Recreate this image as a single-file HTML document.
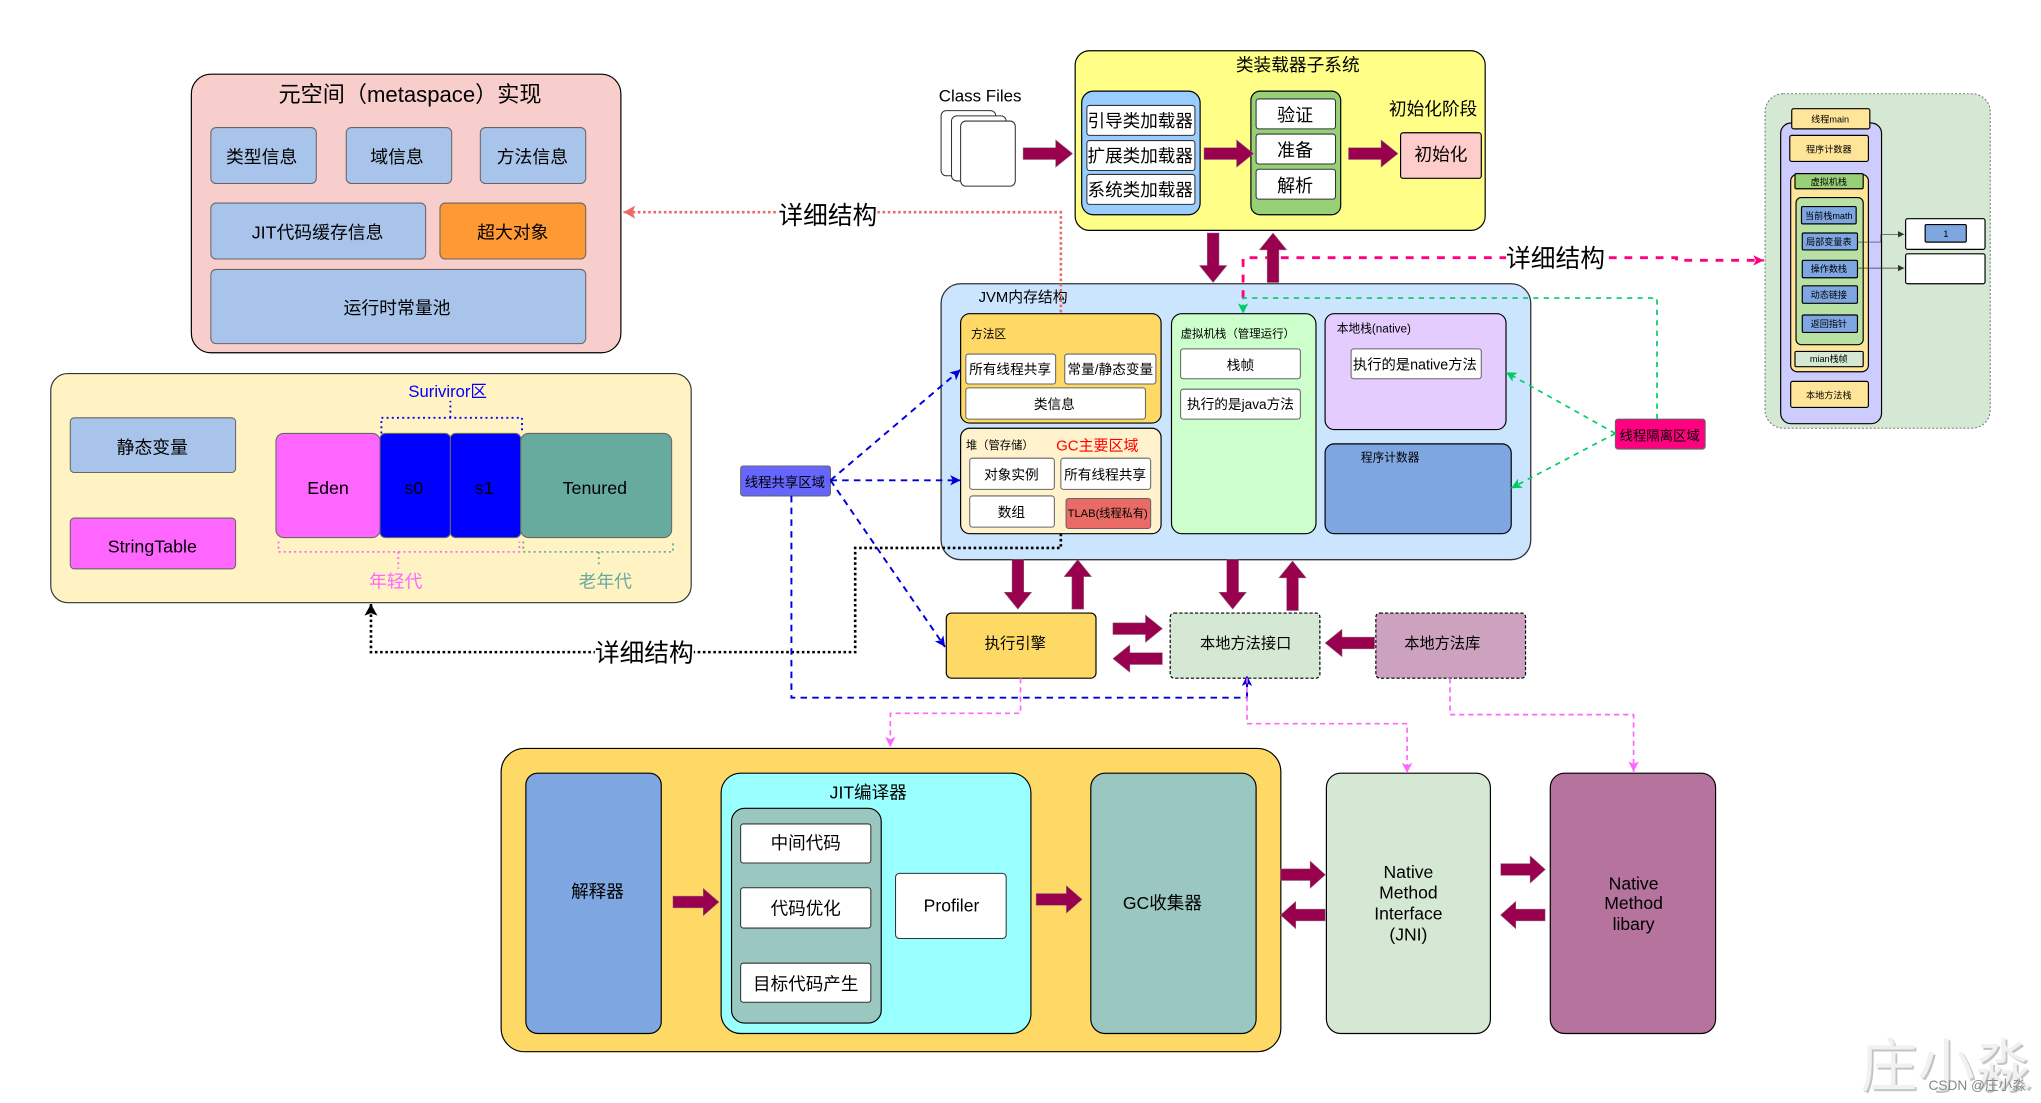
<!DOCTYPE html>
<html><head><meta charset="utf-8">
<style>
html,body{margin:0;padding:0;background:#fff;width:2041px;height:1103px;overflow:hidden}
svg{display:block}
text{font-family:"Liberation Sans","Noto Sans CJK SC",sans-serif;fill:#000;text-anchor:middle;dominant-baseline:central;transform:translateY(.8px)}
.l{text-anchor:start}
.b{stroke:#666;stroke-width:.8}
.k{stroke:#000;stroke-width:.9}
.w{fill:#fff;stroke:#666;stroke-width:.8}
path{fill:none}
</style></head><body>
<svg width="2041" height="1103" viewBox="0 0 1568 847.4" preserveAspectRatio="none" xmlns="http://www.w3.org/2000/svg">
<defs>
<polygon id="ar" points="0,-4.5 25,-4.5 25,-10.5 38,0 25,10.5 25,4.5 0,4.5" fill="#99004d" stroke="#8a6a7a" stroke-width=".4"/>
<marker id="mr" markerUnits="userSpaceOnUse" markerWidth="12" markerHeight="12" refX="9" refY="5" orient="auto"><path d="M0,0L9,5L0,10L2,5Z" style="fill:#ea6b66"/></marker>
<marker id="mk" markerUnits="userSpaceOnUse" markerWidth="12" markerHeight="12" refX="9" refY="5" orient="auto"><path d="M0,0L9,5L0,10L2,5Z" style="fill:#000"/></marker>
<marker id="mb" markerUnits="userSpaceOnUse" markerWidth="10" markerHeight="10" refX="8" refY="4" orient="auto"><path d="M0,0L8,4L0,8L2,4Z" style="fill:#0000dd"/></marker>
<marker id="mg" markerUnits="userSpaceOnUse" markerWidth="10" markerHeight="10" refX="8" refY="4" orient="auto"><path d="M0,0L8,4L0,8L2,4Z" style="fill:#00cc66"/></marker>
<marker id="mp" markerUnits="userSpaceOnUse" markerWidth="10" markerHeight="10" refX="8" refY="4" orient="auto"><path d="M0,0L8,4L0,8L2,4Z" style="fill:#ff0080"/></marker>
<marker id="mm" markerUnits="userSpaceOnUse" markerWidth="10" markerHeight="10" refX="8" refY="4" orient="auto"><path d="M0,0L8,4L0,8L2,4Z" style="fill:#ff66ff"/></marker>
<marker id="md" markerUnits="userSpaceOnUse" markerWidth="6" markerHeight="6" refX="5" refY="2.5" orient="auto"><path d="M0,0L5,2.5L0,5Z" style="fill:#333"/></marker>
</defs>

<!-- metaspace -->
<rect x="147" y="57" width="330" height="214" rx="15" fill="#f8cecc" class="k"/>
<text x="315" y="72" font-size="17">元空间（metaspace）实现</text>
<g font-size="13.7">
<rect x="162" y="98" width="81" height="43" rx="4" fill="#a9c4eb" class="b"/><text x="201" y="120">类型信息</text>
<rect x="266" y="98" width="81" height="43" rx="4" fill="#a9c4eb" class="b"/><text x="305" y="120">域信息</text>
<rect x="369" y="98" width="81" height="43" rx="4" fill="#a9c4eb" class="b"/><text x="409" y="120">方法信息</text>
<rect x="162" y="156" width="165" height="43" rx="4" fill="#a9c4eb" class="b"/><text x="244" y="178">JIT代码缓存信息</text>
<rect x="338" y="156" width="112" height="43" rx="4" fill="#ff9933" class="b"/><text x="394" y="178">超大对象</text>
<rect x="162" y="207" width="288" height="57" rx="4" fill="#a9c4eb" class="b"/><text x="305" y="236">运行时常量池</text>
</g>

<!-- heap detail -->
<rect x="39" y="287" width="492" height="176" rx="13" fill="#fff2c3" stroke="#333" stroke-width=".9"/>
<g font-size="13.7">
<rect x="54" y="321" width="127" height="42" rx="3" fill="#a9c4eb" class="b"/><text x="117" y="343">静态变量</text>
<rect x="54" y="398" width="127" height="39" rx="3" fill="#ff66ff" class="b"/><text x="117" y="419">StringTable</text>
<rect x="212" y="333" width="80" height="80" rx="6" fill="#ff66ff" class="b"/><text x="252" y="374">Eden</text>
<rect x="292" y="333" width="54" height="80" rx="4" fill="#0000ff" class="b"/><text x="318" y="374">s0</text>
<rect x="346" y="333" width="54" height="80" rx="4" fill="#0000ff" class="b"/><text x="372" y="374">s1</text>
<rect x="400" y="333" width="116" height="80" rx="6" fill="#67ab9f" class="b"/><text x="457" y="374">Tenured</text>
<text x="344" y="300" font-size="12.8" style="fill:#0000ff">Suriviror区</text>
<text x="304" y="446" style="fill:#ff66ff">年轻代</text>
<text x="465" y="446" style="fill:#67ab9f">老年代</text>
</g>
<path d="M293,333V321H401V333M346,321V308" stroke="#0000ff" stroke-width="1.4" stroke-dasharray="1.5 2.5"/>
<path d="M214,416V424H399V416M306,424V437" stroke="#ff66ff" stroke-width="1.4" stroke-dasharray="1.5 2.5"/>
<path d="M402,416V424H517V416M460,424V434" stroke="#67ab9f" stroke-width="1.4" stroke-dasharray="1.5 2.5"/>

<!-- class files -->
<text x="753" y="73" font-size="13">Class Files</text>
<rect x="723" y="85" width="42" height="50" rx="4" class="w" style="stroke:#333"/>
<rect x="731" y="89" width="42" height="50" rx="4" class="w" style="stroke:#333"/>
<rect x="738" y="93" width="42" height="50" rx="4" class="w" style="stroke:#333"/>

<!-- class loader -->
<rect x="826" y="39" width="315" height="138" rx="11" fill="#ffff88" class="k"/>
<text x="997" y="49" font-size="13.6">类装载器子系统</text>
<rect x="831" y="70" width="91" height="95" rx="9" fill="#99ccff" class="k"/>
<g font-size="13.5">
<rect x="835" y="81" width="83" height="23" rx="2" class="w" style="stroke:#333"/><text x="876" y="92">引导类加载器</text>
<rect x="835" y="108" width="83" height="23" rx="2" class="w" style="stroke:#333"/><text x="876" y="119">扩展类加载器</text>
<rect x="835" y="134" width="83" height="23" rx="2" class="w" style="stroke:#333"/><text x="876" y="145">系统类加载器</text>
</g>
<rect x="961" y="70" width="69" height="95" rx="7" fill="#97d077" class="k"/>
<g font-size="13.8">
<rect x="965" y="76" width="61" height="23" rx="2" class="w" style="stroke:#333"/><text x="995" y="88">验证</text>
<rect x="965" y="103" width="61" height="23" rx="2" class="w" style="stroke:#333"/><text x="995" y="115">准备</text>
<rect x="965" y="130" width="61" height="23" rx="2" class="w" style="stroke:#333"/><text x="995" y="142">解析</text>
<text x="1101" y="83" font-size="13.6">初始化阶段</text>
</g>
<rect x="1076" y="102" width="62" height="35" rx="2" fill="#ffcccc" class="k"/>
<text x="1107" y="118" font-size="13.6">初始化</text>

<!-- JVM -->
<rect x="723" y="218" width="453" height="212" rx="15" fill="#cce5ff" stroke="#333" stroke-width="1"/>
<text x="786" y="228" font-size="11.4">JVM内存结构</text>
<rect x="738" y="241" width="154" height="84" rx="7" fill="#ffd966" class="k"/>
<text x="746" y="256" font-size="9" class="l">方法区</text>
<g font-size="10.5">
<rect x="742" y="272" width="69" height="23" rx="2" class="w"/><text x="776" y="283">所有线程共享</text>
<rect x="818" y="272" width="70" height="23" rx="2" class="w"/><text x="853" y="283">常量/静态变量</text>
<rect x="742" y="298" width="138" height="24" rx="2" class="w"/><text x="810" y="310">类信息</text>
</g>
<rect x="738" y="329" width="154" height="81" rx="7" fill="#fff2cc" class="k"/>
<text x="742" y="342" font-size="8.7" class="l">堆（管存储）</text>
<text x="843" y="342" font-size="11.5" style="fill:#ff0000">GC主要区域</text>
<g font-size="10.5">
<rect x="745" y="352" width="65" height="24" rx="2" class="w"/><text x="777" y="364">对象实例</text>
<rect x="815" y="352" width="69" height="24" rx="2" class="w"/><text x="849" y="364">所有线程共享</text>
<rect x="745" y="381" width="65" height="24" rx="2" class="w"/><text x="777" y="393">数组</text>
<rect x="819" y="383" width="65" height="23" rx="2" fill="#ea6b66" class="b"/><text x="851" y="394" font-size="8.6">TLAB(线程私有)</text>
</g>
<rect x="900" y="241" width="111" height="169" rx="8" fill="#ccffcc" class="k"/>
<text x="907" y="256" font-size="8.8" class="l">虚拟机栈（管理运行）</text>
<g font-size="10.5">
<rect x="907" y="268" width="92" height="23" rx="2" class="w"/><text x="953" y="280">栈帧</text>
<rect x="907" y="299" width="92" height="23" rx="2" class="w"/><text x="953" y="310">执行的是java方法</text>
</g>
<rect x="1018" y="241" width="139" height="89" rx="7" fill="#e5ccff" class="k"/>
<text x="1027" y="252" font-size="9" class="l">本地栈(native)</text>
<rect x="1038" y="268" width="100" height="23" rx="2" class="w"/><text x="1087" y="280" font-size="11">执行的是native方法</text>
<rect x="1018" y="341" width="143" height="69" rx="7" fill="#7ea6e0" class="k"/>
<text x="1068" y="351" font-size="9">程序计数器</text>

<rect x="569" y="358" width="69" height="23" rx="2" fill="#6666ff" class="b"/><text x="603" y="370" font-size="10.3">线程共享区域</text>
<rect x="1241" y="322" width="69" height="23" rx="2" fill="#ff0080" class="b"/><text x="1275" y="334" font-size="10.3">线程隔离区域</text>

<!-- execution row -->
<rect x="727" y="471" width="115" height="50" rx="4" fill="#ffd966" class="k"/><text x="780" y="494" font-size="11.8">执行引擎</text>
<rect x="899" y="471" width="115" height="50" rx="3" fill="#d5e8d4" stroke="#000" stroke-width=".9" stroke-dasharray="2.5 1.5"/><text x="957" y="494" font-size="11.7">本地方法接口</text>
<rect x="1057" y="471" width="115" height="50" rx="3" fill="#cda2be" stroke="#000" stroke-width=".9" stroke-dasharray="2.5 1.5"/><text x="1108" y="494" font-size="11.7">本地方法库</text>

<!-- bottom -->
<rect x="385" y="575" width="599" height="233" rx="18" fill="#ffd966" class="k"/>
<g font-size="13.5">
<rect x="404" y="594" width="104" height="200" rx="9" fill="#7ea6e0" class="k"/><text x="459" y="684">解释器</text>
<rect x="554" y="594" width="238" height="200" rx="15" fill="#99ffff" class="k"/><text x="667" y="608">JIT编译器</text>
<rect x="562" y="621" width="115" height="165" rx="10" fill="#9ac7bf" class="k"/>
<g font-size="13.5">
<rect x="569" y="633" width="100" height="30" rx="2" class="w" style="stroke:#333"/><text x="619" y="647">中间代码</text>
<rect x="569" y="682" width="100" height="31" rx="2" class="w" style="stroke:#333"/><text x="619" y="697">代码优化</text>
<rect x="569" y="740" width="100" height="30" rx="2" class="w" style="stroke:#333"/><text x="619" y="755">目标代码产生</text>
</g>
<rect x="688" y="671" width="85" height="50" rx="3" class="w" style="stroke:#333"/><text x="731" y="695">Profiler</text>
<rect x="838" y="594" width="127" height="200" rx="11" fill="#9ac7bf" class="k"/><text x="893" y="693">GC收集器</text>
<rect x="1019" y="594" width="126" height="200" rx="11" fill="#d5e8d4" class="k"/>
<text x="1082" y="669">Native</text><text x="1082" y="685">Method</text><text x="1082" y="701">Interface</text><text x="1082" y="717">(JNI)</text>
<rect x="1191" y="594" width="127" height="200" rx="11" fill="#b5739d" class="k"/>
<text x="1255" y="678">Native</text><text x="1255" y="693">Method</text><text x="1255" y="709">libary</text>
</g>

<!-- connectors -->
<path d="M815,240V163H479" stroke="#ea6b66" stroke-width="2" stroke-dasharray="2 2" marker-end="url(#mr)"/>
<path d="M815,410V421H657V501H285V464" stroke="#000" stroke-width="2" stroke-dasharray="2 2" marker-end="url(#mk)"/>
<g stroke="#0000dd" stroke-width="1.5" stroke-dasharray="5 4">
<path d="M638,369L738,284" marker-end="url(#mb)"/>
<path d="M638,369H738" marker-end="url(#mb)"/>
<path d="M638,369L726,497" marker-end="url(#mb)"/>
<path d="M608,381V536H958V519" marker-end="url(#mb)"/>
</g>
<path d="M955,229V198H1288V200H1355" stroke="#ff0080" stroke-width="2.2" stroke-dasharray="6 6" marker-end="url(#mp)"/>
<g stroke="#00cc66" stroke-width="1.3" stroke-dasharray="4 4">
<path d="M1241,333L1157,286" marker-end="url(#mg)"/>
<path d="M1241,333L1161,375" marker-end="url(#mg)"/>
<path d="M1273,322V229H955V241" marker-end="url(#mg)"/>
</g>
<g stroke="#ff66ff" stroke-width="1.3" stroke-dasharray="4 3">
<path d="M784,521V548H684V574" marker-end="url(#mm)"/>
<path d="M958,521V556H1081V594" marker-end="url(#mm)"/>
<path d="M1114,521V549H1255V593" marker-end="url(#mm)"/>
</g>

<!-- block arrows -->
<use href="#ar" transform="translate(786,118)"/>
<use href="#ar" transform="translate(925,118)"/>
<use href="#ar" transform="translate(1036,118)"/>
<use href="#ar" transform="translate(932,179) rotate(90)"/>
<use href="#ar" transform="translate(978,217) rotate(-90)"/>
<use href="#ar" transform="translate(782,430) rotate(90)"/>
<use href="#ar" transform="translate(828,468) rotate(-90)"/>
<use href="#ar" transform="translate(947,430) rotate(90)"/>
<use href="#ar" transform="translate(993,469) rotate(-90)"/>
<use href="#ar" transform="translate(855,483)"/>
<use href="#ar" transform="translate(893,506) rotate(180)"/>
<use href="#ar" transform="translate(1056,494) rotate(180)"/>
<use href="#ar" transform="translate(517,693) scale(.93,1)"/>
<use href="#ar" transform="translate(796,691) scale(.93,1)"/>
<use href="#ar" transform="translate(984,672) scale(.9,1)"/>
<use href="#ar" transform="translate(1018,703) rotate(180) scale(.9,1)"/>
<use href="#ar" transform="translate(1153,668) scale(.9,1)"/>
<use href="#ar" transform="translate(1187,703) rotate(180) scale(.9,1)"/>

<!-- labels over lines -->
<rect x="598" y="153" width="76" height="24" fill="#fff"/><text x="636" y="165.5" font-size="19">详细结构</text>
<rect x="457" y="489" width="76" height="24" fill="#fff"/><text x="495" y="501.5" font-size="19">详细结构</text>
<rect x="1157" y="186" width="76" height="24" fill="#fff"/><text x="1195" y="198.5" font-size="19">详细结构</text>

<!-- right panel -->
<rect x="1356" y="72" width="173" height="257" rx="14" fill="#d5e8d4" stroke="#777" stroke-width=".8" stroke-dasharray="1.5 1.5"/>
<rect x="1368" y="94.5" width="77.5" height="231" rx="8" fill="#ccccff" class="k"/>
<g font-size="7">
<rect x="1376.5" y="83.5" width="60" height="15.5" rx="1.5" fill="#ffe599" class="k"/><text x="1406" y="91">线程main</text>
<rect x="1375" y="104" width="60.4" height="20" rx="1.5" fill="#ffe599" class="k"/><text x="1405" y="114">程序计数器</text>
<rect x="1375.7" y="134" width="59.7" height="151.6" rx="5" fill="#ffe599" class="k"/>
<rect x="1379" y="133.4" width="52.4" height="11.6" rx="1" fill="#97d077" class="k"/><text x="1405" y="139">虚拟机栈</text>
<rect x="1379.8" y="151.8" width="51.6" height="113" rx="4" fill="#b9e0a5" class="k"/>
<rect x="1384" y="158.7" width="42" height="13.3" rx="1" fill="#7ea6e0" class="k"/><text x="1405" y="165">当前栈math</text>
<rect x="1384.6" y="179" width="42.4" height="13" rx="1" fill="#7ea6e0" class="k"/><text x="1405" y="185">局部变量表</text>
<rect x="1384.6" y="200" width="42.4" height="13.4" rx="1" fill="#7ea6e0" class="k"/><text x="1405" y="206">操作数栈</text>
<rect x="1384.6" y="219.6" width="42.4" height="13.4" rx="1" fill="#7ea6e0" class="k"/><text x="1405" y="226">动态链接</text>
<rect x="1384.6" y="242" width="42.4" height="13.4" rx="1" fill="#7ea6e0" class="k"/><text x="1405" y="248">返回指针</text>
<rect x="1379" y="270" width="52.4" height="11.7" rx="1" fill="#d5e8d4" class="k"/><text x="1405" y="275">mian栈帧</text>
<rect x="1375.7" y="293" width="59.7" height="20" rx="1.5" fill="#ffe599" class="k"/><text x="1405" y="303">本地方法栈</text>
<rect x="1464" y="168" width="61" height="23.6" rx="1.5" fill="#fff" class="k"/>
<rect x="1464" y="195" width="61" height="23" rx="1.5" fill="#fff" class="k"/>
<rect x="1479" y="172.5" width="31.6" height="13.5" rx="1" fill="#7ea6e0" class="k"/><text x="1495" y="179">1</text>
</g>
<path d="M1427,186H1445V180H1463" stroke="#333" stroke-width=".5" marker-end="url(#md)"/>
<path d="M1427,206H1463" stroke="#333" stroke-width=".5" marker-end="url(#md)"/>

<!-- watermark -->
<text x="1496.5" y="820.5" font-size="44" style="fill:#c4c4c4">庄小淼</text>
<text x="1495" y="819" font-size="44" style="fill:#f1f1f1">庄小淼</text>
<text x="1519" y="833" font-size="10.5" style="fill:#888">CSDN @庄小淼</text>
</svg>
</body></html>
